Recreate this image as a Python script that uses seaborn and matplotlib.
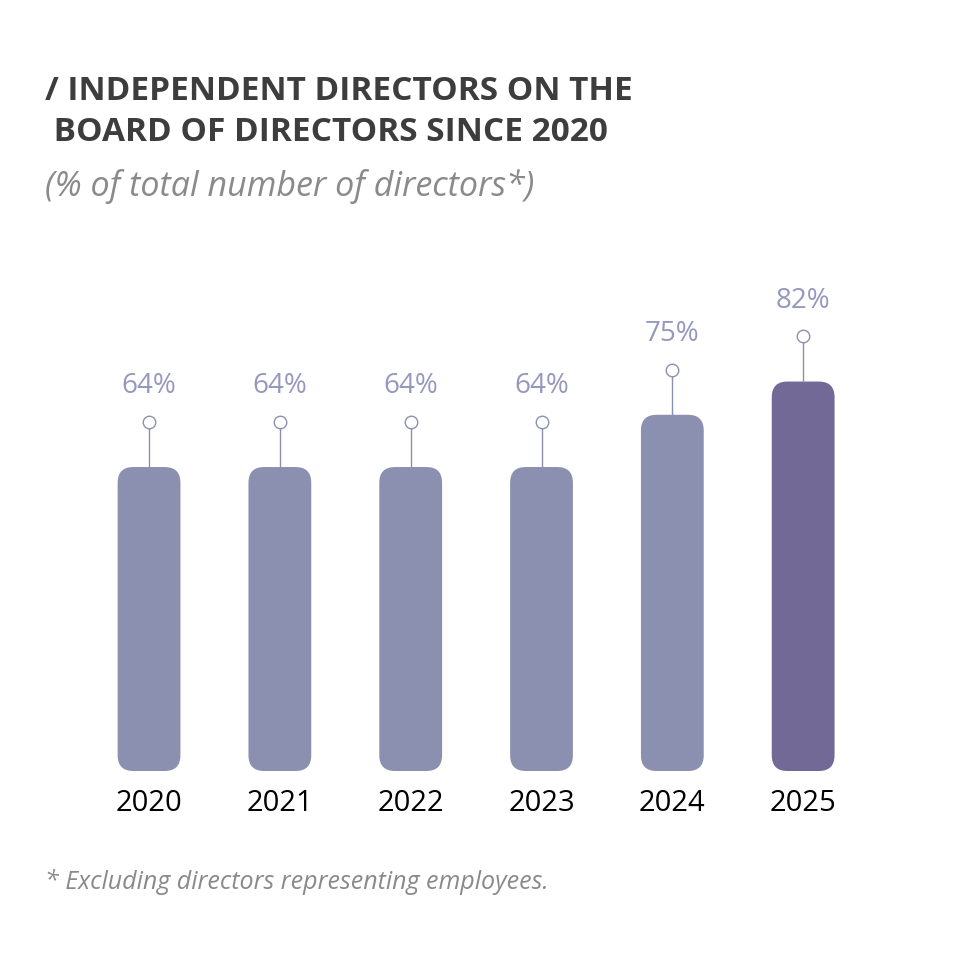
import matplotlib
matplotlib.use("Agg")
import matplotlib.pyplot as plt
import seaborn as sns
import pandas as pd
from matplotlib.patches import FancyBboxPatch

sns.set_style("white")
plt.rcParams['font.family'] = ['Open Sans', 'DejaVu Sans']

years = ["2020", "2021", "2022", "2023", "2024", "2025"]
values = [64, 64, 64, 64, 75, 82]
labels = ["64%", "64%", "64%", "64%", "75%", "82%"]
colors = ["#8c90b0"] * 5 + ["#736997"]

df = pd.DataFrame({"year": years, "value": values})

fig = plt.figure(figsize=(9.59, 9.64), dpi=100)
ax = fig.add_axes([0.0872, 0.2002, 0.8185, 0.4927])
sns.barplot(data=df, x="year", y="value", ax=ax, width=0.48, palette=colors, hue="year", legend=False)
ax.set_xlim(-0.5, 5.5)
ax.set_ylim(0, 100)

# swap plain bars for rounded ones
aspect = (0.8185 * 959 / 6) / (0.4927 * 964 / 100)
for p, c in zip(list(ax.patches), colors):
    x, w, h = p.get_x(), p.get_width(), p.get_height()
    p.remove()
    ax.add_patch(FancyBboxPatch((x, 0), w, h, boxstyle="round,pad=0,rounding_size=0.12",
                                mutation_aspect=aspect, fc=c, ec="none"))

for i, (v, lab) in enumerate(zip(values, labels)):
    ax.plot([i, i], [v, v + 9.5], color="#8c90b0", lw=1, clip_on=False)
    ax.plot(i, v + 9.5, "o", ms=9, mfc="white", mec="#8c90b0", mew=1, clip_on=False)
    ax.text(i, v + 17, lab, ha="center", va="center", fontsize=20, color="#9598bd", clip_on=False)

ax.set_xlabel("")
ax.set_ylabel("")
ax.set_yticks([])
ax.tick_params(axis="x", length=0, labelsize=21, labelcolor="black", pad=13)
sns.despine(ax=ax, left=True, bottom=True)

fig.text(0.047, 0.922, "/ INDEPENDENT DIRECTORS ON THE\n BOARD OF DIRECTORS SINCE 2020",
         fontsize=24, fontweight="bold", color="#3d3d3d", va="top", linespacing=1.3)
fig.text(0.047, 0.807, "(% of total number of directors*)", fontsize=24.5, style="italic",
         color="#8a8a8a", va="center")
fig.text(0.047, 0.085, "* Excluding directors representing employees.", fontsize=18,
         style="italic", color="#8a8a8a", va="center")

fig.savefig("out.png", dpi=100, facecolor="white")
